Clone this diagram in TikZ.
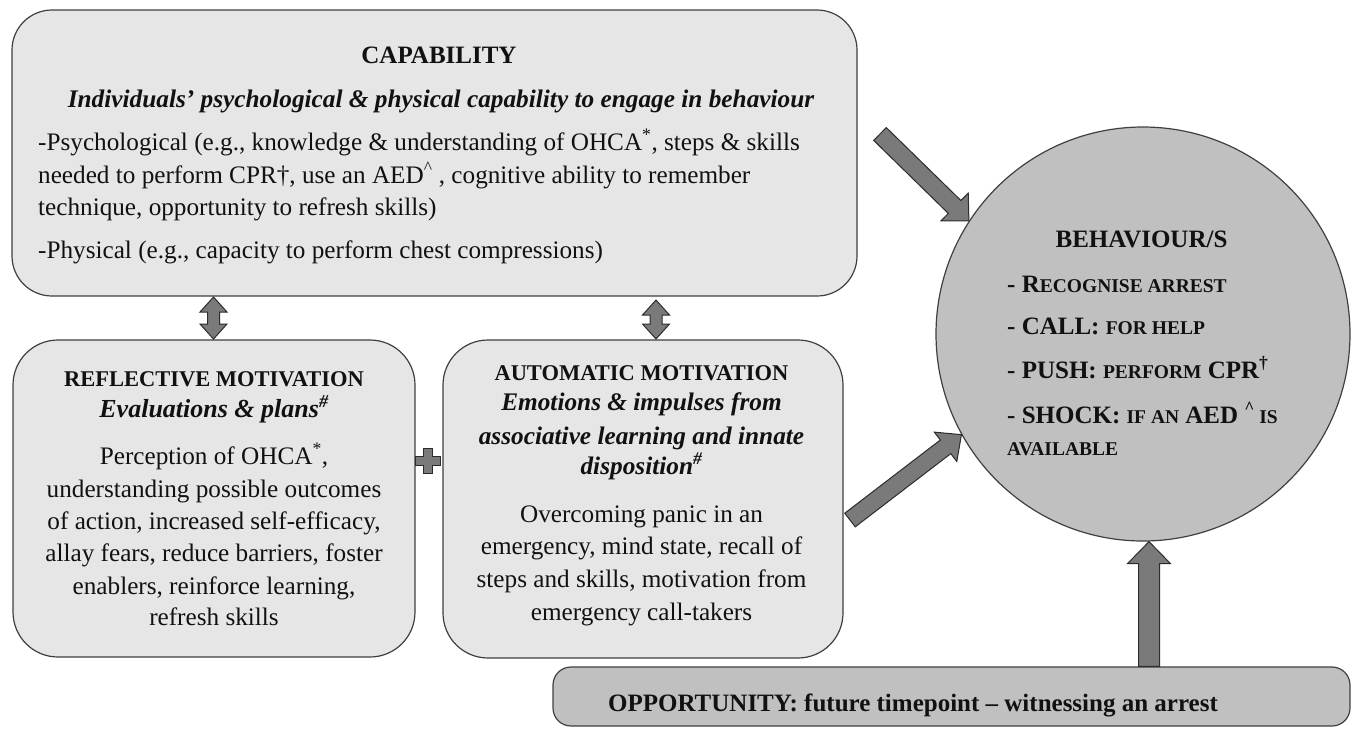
\documentclass[tikz,border=0pt]{standalone}
\usepackage{fontspec}
\setmainfont{Liberation Serif}
\usetikzlibrary{calc}

\definecolor{boxlight}{HTML}{E6E6E6}
\definecolor{boxmid}{HTML}{C0C0C0}
\definecolor{arrowfill}{HTML}{7A7A7A}
\definecolor{edge}{HTML}{404040}
\definecolor{arrowedge}{HTML}{2C2C2C}
\definecolor{ink}{HTML}{111111}

\newcommand\fs[2]{\fontsize{#1}{#2}\selectfont}
% fake small capitals
\newcommand\sml[1]{{\fontsize{19.5}{22}\selectfont #1}}

% block arrow: name, tail, tip, shaft half-width, head half-width, head length
\newcommand\blockarrow[6]{%
  \coordinate (#1-t) at (#2);
  \coordinate (#1-p) at (#3);
  \coordinate (#1-h) at ($(#1-p)!#6!(#1-t)$);
  \draw[arrowshape] ($(#1-t)!#4!90:(#1-p)$) -- ($(#1-h)!#4!-90:(#1-t)$)
    -- ($(#1-h)!#5!-90:(#1-t)$) -- (#1-p) -- ($(#1-h)!#5!90:(#1-t)$)
    -- ($(#1-h)!#4!90:(#1-t)$) -- ($(#1-t)!#4!-90:(#1-p)$) -- cycle;
}
% two-headed block arrow: name, end a, end b, shaft half-width, head half-width, head length
\newcommand\twinarrow[6]{%
  \coordinate (#1-a) at (#2);
  \coordinate (#1-b) at (#3);
  \coordinate (#1-ah) at ($(#1-a)!#6!(#1-b)$);
  \coordinate (#1-bh) at ($(#1-b)!#6!(#1-a)$);
  \draw[arrowshape] (#1-a) -- ($(#1-ah)!#5!90:(#1-b)$) -- ($(#1-ah)!#4!90:(#1-b)$)
    -- ($(#1-bh)!#4!-90:(#1-a)$) -- ($(#1-bh)!#5!-90:(#1-a)$) -- (#1-b)
    -- ($(#1-bh)!#5!90:(#1-a)$) -- ($(#1-bh)!#4!90:(#1-a)$)
    -- ($(#1-ah)!#4!-90:(#1-b)$) -- ($(#1-ah)!#5!-90:(#1-b)$) -- cycle;
}

\tikzset{
  panel/.style={draw=edge, line width=1.2pt, rounded corners=#1, inner sep=0pt},
  txt/.style={anchor=base, inner sep=0pt, text=ink},
  txtl/.style={anchor=base west, inner sep=0pt, text=ink},
  arrowshape/.style={draw=arrowedge, fill=arrowfill, line width=1pt, line join=miter},
  title/.style={font=\fs{22.5}{26}\bfseries},
  subtitle/.style={font=\fs{25.3}{30}\bfseries\itshape},
  body/.style={font=\fs{25.2}{32}},
  beh/.style={font=\fs{25}{30}\bfseries},
}

\begin{document}
\begin{tikzpicture}[x=1pt,y=-1pt]
\useasboundingbox (0,0) rectangle (1355,732);

% ---- panels ----
\node[panel=40, fill=boxlight, minimum width=845, minimum height=286] (cap) at (434.5,153) {};
\node[panel=45, fill=boxlight, minimum width=402, minimum height=317] (refl) at (214,498.5) {};
\node[panel=45, fill=boxlight, minimum width=400, minimum height=318] (auto) at (643,499) {};
\node[circle, draw=edge, line width=1.2pt, fill=boxmid, minimum size=414, inner sep=0pt] (behv) at (1143,334) {};
\node[panel=18, fill=boxmid, minimum width=797, minimum height=59] (opp) at (951.5,696.5) {};

% ---- capability ----
\node[txt, font=\fs{25}{30}\bfseries] (capT) at (439,63) {CAPABILITY};
\node[txt, subtitle] (capS) at (441,107) {Individuals’ psychological \& physical capability to engage in behaviour};
\node[txtl, body] (capA) at (38,150) {-Psychological (e.g., knowledge \& understanding of OHCA\textsuperscript{*}, steps \& skills};
\node[txtl, body] (capB) at (38,183) {needed to perform CPR†, use an AED\textsuperscript{\textasciicircum}\ , cognitive ability to remember};
\node[txtl, body] (capC) at (38,215) {technique, opportunity to refresh skills)};
\node[txtl, body] (capD) at (38,258) {-Physical (e.g., capacity to perform chest compressions)};

% ---- reflective motivation ----
\node[txt, title] (reT) at (214,386) {REFLECTIVE MOTIVATION};
\node[txt, subtitle, font=\fs{26}{30}\bfseries\itshape] (reS) at (214,417) {Evaluations \& plans\textsuperscript{\#}};
\node[txt, body] (re1) at (214,464) {Perception of OHCA\textsuperscript{*},};
\node[txt, body] (re2) at (214,497) {understanding possible outcomes};
\node[txt, body] (re3) at (214,529) {of action, increased self-efficacy,};
\node[txt, body] (re4) at (214,561) {allay fears, reduce barriers, foster};
\node[txt, body] (re5) at (214,594) {enablers, reinforce learning,};
\node[txt, body] (re6) at (214,625) {refresh skills};

% ---- automatic motivation ----
\node[txt, title] (auT) at (641.5,380) {AUTOMATIC MOTIVATION};
\node[txt, subtitle] (auS1) at (641.5,410) {Emotions \& impulses from};
\node[txt, subtitle] (auS2) at (641.5,444) {associative learning and innate};
\node[txt, subtitle] (auS3) at (641.5,474) {disposition\textsuperscript{\#}};
\node[txt, body] (au1) at (641.5,522) {Overcoming panic in an};
\node[txt, body] (au2) at (641.5,554) {emergency, mind state, recall of};
\node[txt, body] (au3) at (641.5,587) {steps and skills, motivation from};
\node[txt, body] (au4) at (641.5,620) {emergency call-takers};

% ---- behaviours ----
\node[txt, beh] (beT) at (1141.5,247) {BEHAVIOUR/S};
\node[txtl, beh] (be1) at (1007,292) {- R\sml{ECOGNISE ARREST}};
\node[txtl, beh] (be2) at (1007,334) {- CALL: \sml{FOR HELP}};
\node[txtl, beh] (be3) at (1007,378) {- PUSH: \sml{PERFORM} CPR\textsuperscript{†}};
\node[txtl, beh] (be4) at (1007,423) {- SHOCK: \sml{IF AN} AED \textsuperscript{\textasciicircum}\,\sml{IS}};
\node[txtl, beh] (be5) at (1007,455) {\sml{AVAILABLE}};

% ---- opportunity ----
\node[txt, font=\fs{25}{30}\bfseries] (opT) at (913,711) {OPPORTUNITY: future timepoint – witnessing an arrest};

% ---- links ----
\twinarrow{capRefl}{213.5,297}{213.5,339}{6pt}{13.5pt}{15pt}
\twinarrow{capAuto}{656,300}{656,339}{6pt}{13.5pt}{15pt}

% plus sign between the two motivation panels
\coordinate (plus) at (427.5,460.5);
\draw[arrowshape, shift={(plus)}]
  (-4.5,-12.5) -- (4.5,-12.5) -- (4.5,-4.5) -- (12.5,-4.5) -- (12.5,4.5) -- (4.5,4.5)
  -- (4.5,12.5) -- (-4.5,12.5) -- (-4.5,4.5) -- (-12.5,4.5) -- (-12.5,-4.5) -- (-4.5,-4.5) -- cycle;

\coordinate (capOut) at (880,134);
\blockarrow{capBeh}{capOut}{behv.147}{9pt}{19.5pt}{20pt}
\coordinate (autoOut) at (850,520);
\blockarrow{autoBeh}{autoOut}{behv.209}{8.6pt}{18.5pt}{20pt}
\coordinate (oppOut) at ($(opp.north)+(197.5,0)$);
\coordinate (behIn) at ($(behv.south)+(6,0)$);
\blockarrow{oppBeh}{oppOut}{behIn}{10.5pt}{21.5pt}{22pt}

\end{tikzpicture}
\end{document}
